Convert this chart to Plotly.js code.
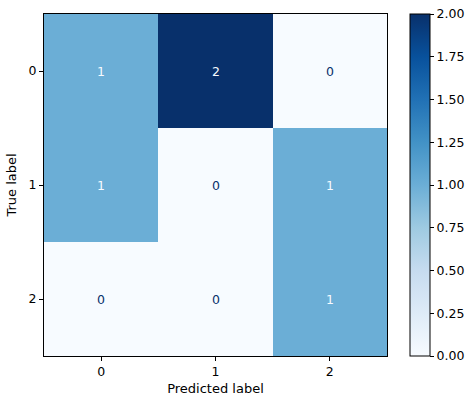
<!DOCTYPE html>
<html>
<head>
<meta charset="utf-8">
<script src="https://cdn.plot.ly/plotly-3.0.1.min.js"></script>
<style>body{margin:0;background:#fff}#chart{width:474px;height:405px}</style>
</head>
<body>
<div id="chart"></div>
<script>
var labels = ['0', '1', '2'];
var cm = [
    [1, 2, 0],
    [1, 0, 1],
    [0, 0, 1]
];

// matplotlib "Blues"
var blues = [
    [0.0, '#f7fbff'], [0.125, '#deebf7'], [0.25, '#c6dbef'],
    [0.375, '#9ecae1'], [0.5, '#6baed6'], [0.625, '#4292c6'],
    [0.75, '#2171b5'], [0.875, '#08519c'], [1.0, '#08306b']
];

var flat = [].concat.apply([], cm);
var zmin = Math.min.apply(null, flat), zmax = Math.max.apply(null, flat);
var thresh = (zmin + zmax) / 2;

var annotations = [];
for (var i = 0; i < cm.length; i++) {
    for (var j = 0; j < cm[i].length; j++) {
        annotations.push({
            x: labels[j], y: labels[i], xref: 'x', yref: 'y',
            text: String(cm[i][j]), showarrow: false,
            font: {size: 12.5, color: cm[i][j] < thresh ? '#08306b' : '#f7fbff'}
        });
    }
}

var trace = {
    type: 'heatmap',
    x: labels,
    y: labels,
    z: cm,
    zmin: zmin,
    zmax: zmax,
    colorscale: blues,
    colorbar: {
        x: 1.067, xanchor: 'left', xpad: 0,
        y: 0, yanchor: 'bottom', ypad: 0, len: 1,
        thickness: 20, outlinewidth: 1, outlinecolor: '#000',
        tickmode: 'linear', tick0: 0, dtick: 0.25, tickformat: '.2f',
        ticks: 'outside', ticklen: 4, tickcolor: '#000',
        tickfont: {size: 12.5, color: '#000'}
    }
};

var axisCommon = {
    type: 'category',
    showgrid: false, zeroline: false,
    showline: true, mirror: true, linecolor: '#000', linewidth: 1,
    ticks: 'outside', ticklen: 4, tickcolor: '#000',
    tickfont: {size: 12.5, color: '#000'}
};

var layout = {
    width: 474, height: 405,
    margin: {l: 44, r: 87, t: 14, b: 49, autoexpand: false},
    paper_bgcolor: '#fff', plot_bgcolor: '#fff',
    font: {family: 'DejaVu Sans', size: 12.5, color: '#000'},
    xaxis: Object.assign({}, axisCommon, {
        title: {text: 'Predicted label', standoff: 5, font: {size: 13}}
    }),
    yaxis: Object.assign({}, axisCommon, {
        autorange: 'reversed',
        title: {text: 'True label', standoff: 8, font: {size: 13}}
    }),
    annotations: annotations
};

Plotly.newPlot('chart', [trace], layout, {staticPlot: true});
</script>
</body>
</html>
